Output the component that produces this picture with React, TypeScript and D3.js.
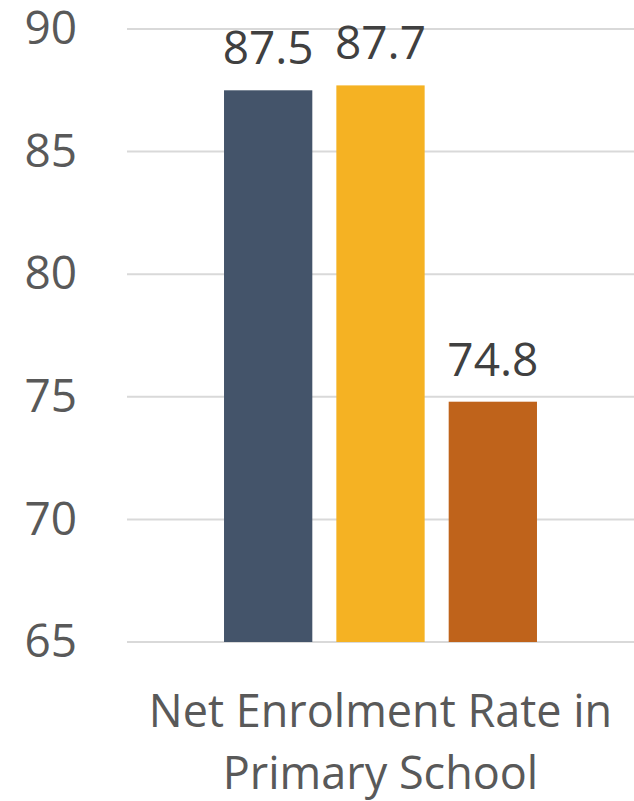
import { useMemo } from "react";
import * as d3 from "d3";

const categories = ["Net Enrolment Rate in Primary School"];
const categoryLines = [["Net Enrolment Rate in", "Primary School"]];
const series = ["Series 1", "Series 2", "Series 3"];
const values = [[87.5, 87.7, 74.8]];
const colors = ["#44546A", "#F5B223", "#BF631B"];
const yTicks = [65, 70, 75, 80, 85, 90];

const width = 634;
const height = 801;
const font = "'Open Sans', sans-serif";

export default function App() {
    const x = useMemo(
        () => d3.scaleBand<string>().domain(categories).range([127, 634]).paddingInner(0).paddingOuter(0.31),
        []
    );
    const xInner = useMemo(
        () => d3.scaleBand<string>().domain(series).range([0, x.bandwidth()]).paddingInner(0.214),
        [x]
    );
    const y = useMemo(() => d3.scaleLinear().domain([65, 90]).range([642, 29]), []);

    return (
        <svg width={width} height={height} style={{ position: "absolute", left: 0, top: 0 }}>
            <rect width={width} height={height} fill="#fff" />
            {yTicks.map((t) => (
                <g key={t}>
                    <line x1={127} x2={634} y1={y(t)} y2={y(t)} stroke="#D9D9D9" strokeWidth={2} />
                    <text
                        x={77}
                        y={y(t)}
                        dy="0.33em"
                        textAnchor="end"
                        fontFamily={font}
                        fontSize={46}
                        fill="#595959"
                    >
                        {t}
                    </text>
                </g>
            ))}
            {categories.map((c, ci) => (
                <g key={c} transform={`translate(${x(c)},0)`}>
                    {series.map((s, si) => {
                        const v = values[ci][si];
                        const bx = xInner(s)!;
                        return (
                            <g key={s}>
                                <rect
                                    x={bx}
                                    y={y(v)}
                                    width={xInner.bandwidth()}
                                    height={y(65) - y(v)}
                                    fill={colors[si]}
                                />
                                <text
                                    x={bx + xInner.bandwidth() / 2}
                                    y={y(v) - 26}
                                    textAnchor="middle"
                                    fontFamily={font}
                                    fontSize={46}
                                    fill="#404040"
                                >
                                    {v.toFixed(1)}
                                </text>
                            </g>
                        );
                    })}
                    {categoryLines[ci].map((line, li) => (
                        <text
                            key={line}
                            x={x.bandwidth() / 2}
                            y={727 + li * 62}
                            textAnchor="middle"
                            fontFamily={font}
                            fontSize={45}
                            fill="#595959"
                        >
                            {line}
                        </text>
                    ))}
                </g>
            ))}
        </svg>
    );
}
